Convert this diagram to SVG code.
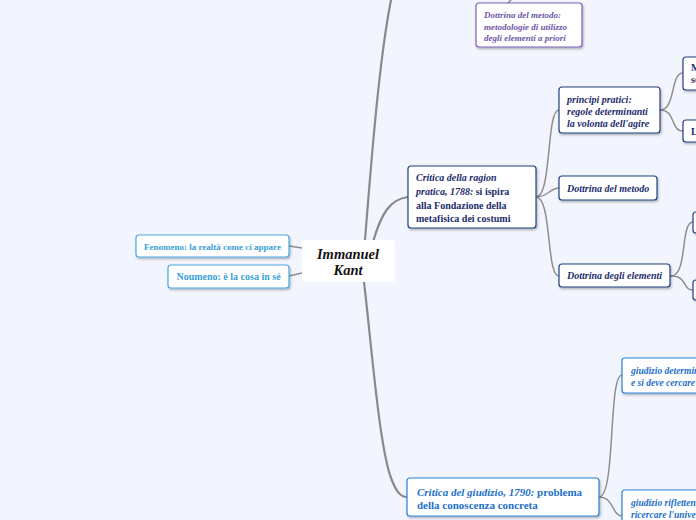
<svg xmlns="http://www.w3.org/2000/svg" width="696" height="520" viewBox="0 0 696 520">
<defs>
<filter id="sh" x="-10%" y="-10%" width="130%" height="140%">
<feDropShadow dx="1" dy="1.5" stdDeviation="0.8" flood-color="#000" flood-opacity="0.3"/>
</filter>
<style>
.bg{fill:#f3f5fe}
.box{fill:#fff;filter:url(#sh)}
.navy{stroke:#24407f;stroke-width:1.2}
.purple{stroke:#7a62b3;stroke-width:1.2}
.lblue{stroke:#4aa9df;stroke-width:1.2}
.blue{stroke:#2a82d6;stroke-width:1.2}
text{font-family:"Liberation Serif","Times New Roman",serif;font-weight:bold}
.tn{fill:#1c2c6c}
.tp{fill:#6e57a8}
.tl{fill:#3a9fd8}
.tb{fill:#1c70c9}
.it{font-style:italic}
.con{fill:none;stroke:#8e8e92;stroke-width:1.5;stroke-linecap:round}
.trunk{fill:none;stroke:#8a8a8e;stroke-width:2.2;stroke-linecap:round}
</style>
</defs>
<rect class="bg" x="0" y="0" width="696" height="520"/>

<g id="connectors">
<path class="trunk" d="M365,240 C371,165 379,60 391,0"/>
<path class="trunk" d="M373,242 C381,214 390,199 408,197"/>
<path class="trunk" d="M364,282 C371,340 379,445 391,478 C396,491 400,497 407,497"/>
<path class="con" d="M289,246 L302,248"/>
<path class="con" d="M289,276 L302,273"/>
<path class="con" d="M511,0 L508,3"/>
<path class="con" d="M536,197 C552,197 546,110 559,110"/>
<path class="con" d="M536,197 C548,197 550,188 559,188"/>
<path class="con" d="M536,197 C552,197 546,276 559,276"/>
<path class="con" d="M660,110 C676,110 670,73 683,73"/>
<path class="con" d="M660,110 C676,110 670,131 683,131"/>
<path class="con" d="M671,276 C688,276 680,222 693,222"/>
<path class="con" d="M671,276 C688,276 682,290 693,290"/>
<path class="con" d="M599,497 C616,497 608,375 622,375"/>
<path class="con" d="M599,497 C614,497 612,516 622,516"/>
</g>

<g id="kant">
<rect x="302" y="240" width="93" height="42" rx="4" fill="#fff"/>
<text x="348" y="259" font-size="14.5" text-anchor="middle" fill="#111" class="it">Immanuel</text>
<text x="348" y="275" font-size="14.5" text-anchor="middle" fill="#111" class="it">Kant</text>
</g>

<g id="fenomeno">
<rect class="box lblue" x="136" y="235" width="153" height="22" rx="3"/>
<text class="tl" x="212.5" y="249.5" font-size="9" text-anchor="middle">Fenomeno: la realtà come ci appare</text>
</g>

<g id="noumeno">
<rect class="box lblue" x="168" y="265" width="121" height="23" rx="3"/>
<text class="tl" x="228.5" y="280" font-size="10" text-anchor="middle">Noumeno: è la cosa in sé</text>
</g>

<g id="dottrina-metodo-top">
<rect class="box purple" x="476" y="3" width="106" height="44" rx="3"/>
<text class="tp it" x="484" y="18" font-size="9">Dottrina del metodo:</text>
<text class="tp it" x="484" y="29.5" font-size="9">metodologie di utilizzo</text>
<text class="tp it" x="484" y="41" font-size="9">degli elementi a priori</text>
</g>

<g id="ragion-pratica">
<rect class="box navy" x="408" y="166" width="128" height="62" rx="3"/>
<text class="tn" x="416" y="181" font-size="10"><tspan class="it">Critica della ragion</tspan></text>
<text class="tn" x="416" y="195" font-size="10"><tspan class="it">pratica, 1788:</tspan> si ispira</text>
<text class="tn" x="416" y="209" font-size="10">alla Fondazione della</text>
<text class="tn" x="416" y="222" font-size="10">metafisica dei costumi</text>
</g>

<g id="principi-pratici">
<rect class="box navy" x="559" y="87" width="101" height="46" rx="3"/>
<text class="tn it" x="567" y="103" font-size="10">principi pratici:</text>
<text class="tn it" x="567" y="115" font-size="10">regole determinanti</text>
<text class="tn it" x="567" y="127" font-size="10">la volonta dell'agire</text>
</g>

<g id="massime">
<rect class="box navy" x="683" y="57" width="40" height="33" rx="3"/>
<text class="tn" x="691" y="71" font-size="10">Massime: principi</text>
<text class="tn" x="691" y="83" font-size="10">soggettivi</text>
</g>

<g id="leggi">
<rect class="box navy" x="683" y="120" width="40" height="22" rx="3"/>
<text class="tn" x="691" y="134.5" font-size="10">Leggi</text>
</g>

<g id="dottrina-metodo">
<rect class="box navy" x="559" y="176" width="98" height="24" rx="3"/>
<text class="tn it" x="567" y="191.5" font-size="10">Dottrina del metodo</text>
</g>

<g id="dottrina-elementi">
<rect class="box navy" x="559" y="264" width="111" height="23" rx="3"/>
<text class="tn it" x="567" y="279" font-size="10">Dottrina degli elementi</text>
</g>

<g id="elementi-1">
<rect class="box navy" x="693" y="212" width="30" height="21" rx="3"/>
</g>

<g id="elementi-2">
<rect class="box navy" x="693" y="280" width="30" height="20" rx="3"/>
</g>

<g id="giudizio">
<rect class="box blue" x="407" y="478" width="192" height="38" rx="3"/>
<text class="tb" x="417" y="496" font-size="11"><tspan class="it">Critica del giudizio, 1790:</tspan> problema</text>
<text class="tb" x="417" y="509" font-size="11">della conoscenza concreta</text>
</g>

<g id="giudizio-determinante">
<rect class="box blue" x="622" y="358" width="110" height="35" rx="3"/>
<text class="tb it" x="631" y="374" font-size="9.5">giudizio determinante: si ha</text>
<text class="tb it" x="631" y="386" font-size="9.5">e si deve cercare il particolare</text>
</g>

<g id="giudizio-riflettente">
<rect class="box blue" x="622" y="490" width="110" height="40" rx="3"/>
<text class="tb it" x="631" y="506" font-size="9.5">giudizio riflettente: si deve</text>
<text class="tb it" x="631" y="518" font-size="9.5">ricercare l'universale</text>
</g>
</svg>
